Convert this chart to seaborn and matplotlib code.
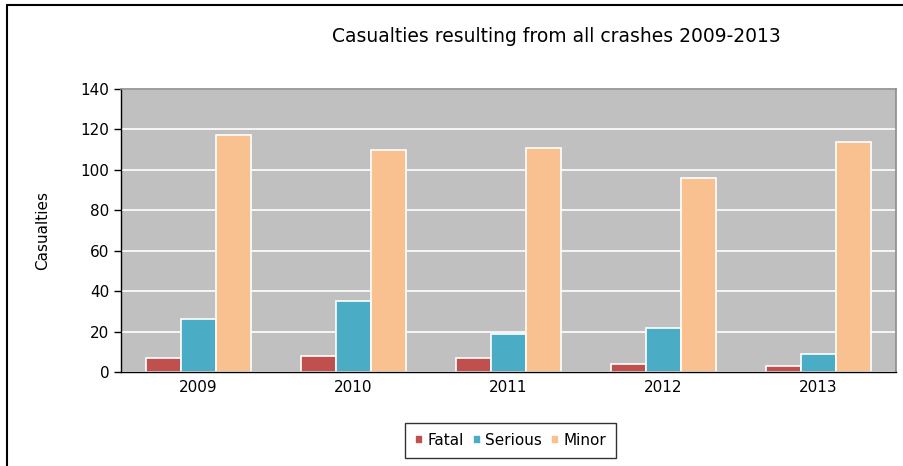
import matplotlib.pyplot as plt
import matplotlib.lines as mlines
import numpy as np
import pandas as pd
import seaborn as sns

# Casualty counts per year and severity
years = ['2009', '2010', '2011', '2012', '2013']
fatal = [7, 8, 7, 4, 3]
serious = [26, 35, 19, 22, 9]
minor = [117, 110, 111, 96, 114]
severities = ['Fatal', 'Serious', 'Minor']
colors = ['#c0504d', '#4bacc6', '#f9c090']

df = pd.DataFrame({'Year': years * 3,
                   'Severity': np.repeat(severities, len(years)),
                   'Casualties': fatal + serious + minor})

sns.set_style('white')
plt.rcParams['font.family'] = ['DejaVu Sans']
plt.rcParams['text.color'] = 'black'
plt.rcParams['axes.labelcolor'] = 'black'
plt.rcParams['xtick.color'] = 'black'
plt.rcParams['ytick.color'] = 'black'

fig = plt.figure(figsize=(9.04, 4.66), dpi=100)
axes = fig.add_axes([121 / 904, 1 - 372 / 466, 775 / 904, 283 / 466])
axes.set_facecolor('#c0c0c0')

sns.barplot(data=df, x='Year', y='Casualties', hue='Severity', palette=colors,
            saturation=1, width=0.68, gap=0, edgecolor='white', linewidth=1.2, ax=axes)

# Gridlines and axes
axes.set_ylim(0, 140)
axes.set_yticks(range(0, 141, 20))
axes.yaxis.grid(True, color='white', linewidth=1.2)
axes.set_axisbelow(True)
axes.set_xlim(-0.5, len(years) - 0.5)
axes.set_xticks(np.arange(-0.5, len(years)), minor=True)
axes.tick_params(axis='x', which='major', length=0, labelsize=11, pad=6)
axes.tick_params(axis='x', which='minor', length=5, width=1, direction='out', color='black')
axes.tick_params(axis='y', length=5, width=1, direction='out', color='black', labelsize=11, left=True)
for side in ['left', 'bottom']:
    axes.spines[side].set_color('black')
    axes.spines[side].set_linewidth(1)
for side in ['top', 'right']:
    axes.spines[side].set_color('#8c8c8c')
    axes.spines[side].set_linewidth(1.2)
    axes.spines[side].set_visible(True)

axes.set_xlabel('')
axes.set_ylabel('Casualties', fontsize=11, labelpad=22)
fig.text(0.615, 0.921, 'Casualties resulting from all crashes 2009-2013',
         ha='center', va='center', fontsize=13.5)

# Legend at the bottom
handles, labels = axes.get_legend_handles_labels()
axes.legend(handles, labels, loc='center', bbox_to_anchor=(0.565, 0.055),
            bbox_transform=fig.transFigure, ncol=3, frameon=True, fancybox=False,
            edgecolor='black', fontsize=11, handlelength=0.5, handleheight=0.5,
            handletextpad=0.3, columnspacing=0.6, borderpad=0.65)

# Outer frame (left and top edges only)
fig.add_artist(mlines.Line2D([7 / 904, 7 / 904], [0, 1 - 5 / 466], color='black', linewidth=1.5))
fig.add_artist(mlines.Line2D([7 / 904, 1], [1 - 5 / 466, 1 - 5 / 466], color='black', linewidth=1.5))

fig.savefig('out.png', dpi=100)
